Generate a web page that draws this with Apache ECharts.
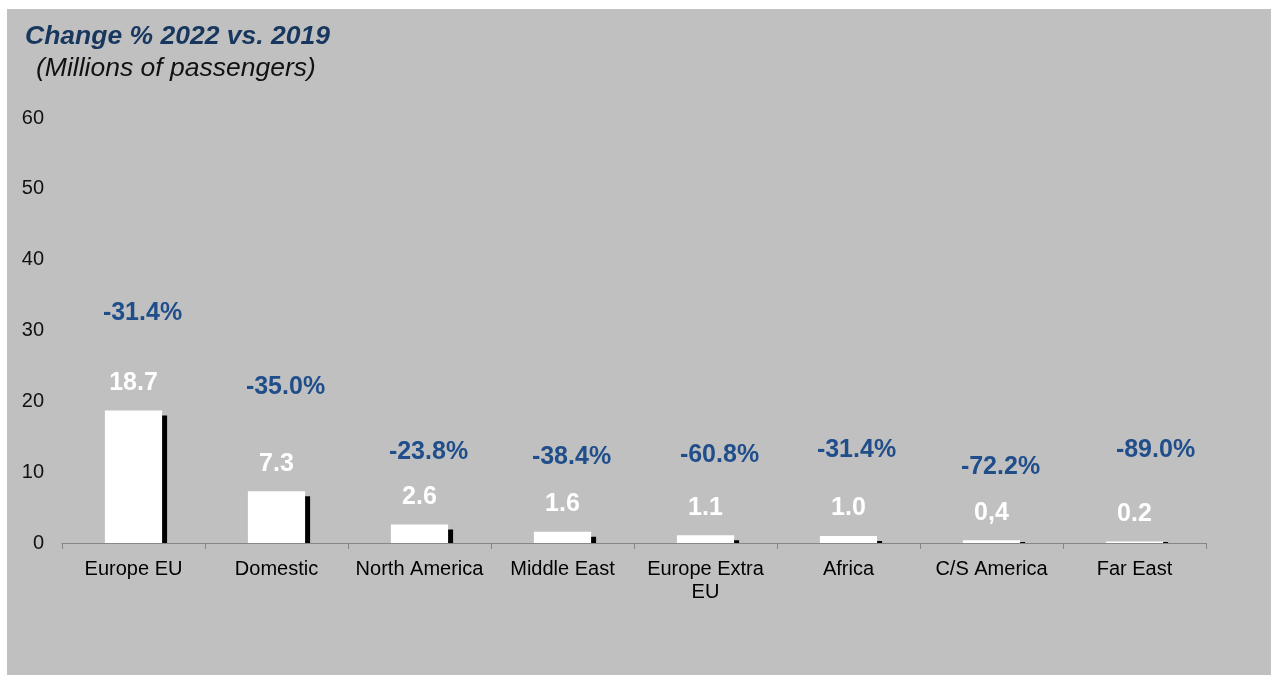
<!DOCTYPE html>
<html>
<head>
<meta charset="utf-8">
<script src="https://cdn.jsdelivr.net/npm/echarts@6/dist/echarts.min.js"></script>
<style>
  html, body { margin: 0; padding: 0; background: #fff; }
  #chart {
    position: absolute;
    left: 7px;
    top: 9px;
    width: 1264px;
    height: 666px;
    background: #c0c0c0;
  }
</style>
</head>
<body>
<div id="chart"></div>
<script>
// data
const categories = ['Europe EU', 'Domestic', 'North America', 'Middle East', 'Europe Extra\nEU', 'Africa', 'C/S America', 'Far East']
const passengers = [18.7, 7.3, 2.6, 1.6, 1.1, 1.0, 0.4, 0.2]
const valueLabels = ['18.7', '7.3', '2.6', '1.6', '1.1', '1.0', '0,4', '0.2']
const changePct = ['-31.4%', '-35.0%', '-23.8%', '-38.4%', '-60.8%', '-31.4%', '-72.2%', '-89.0%']
const yTicks = [0, 10, 20, 30, 40, 50, 60]

// where the % labels float (axis units) and their x nudge (px)
const pctLabelY = [32.5, 22.0, 12.85, 12.1, 12.4, 13.1, 10.7, 13.1]
const pctNudgeX = [9, 9, 9, 9, 14, 8, 9, 21]

const chart = echarts.init(document.getElementById('chart'))

function renderShadow (params, api) {
  const top = api.coord([api.value(0), api.value(1)])
  const base = api.coord([api.value(0), 0])
  const w = api.size([1, 0])[0] * 0.4
  return {
    type: 'rect',
    shape: {
      x: top[0] - w / 2 + 5,
      y: Math.min(top[1] + 5, base[1] - 1),
      width: w,
      height: Math.max(base[1] - top[1] - 5, 1)
    },
    style: { fill: '#000' }
  }
}

chart.setOption({
  backgroundColor: 'transparent',
  animation: false,
  textStyle: { fontFamily: 'Liberation Sans, Arial, sans-serif' },
  title: [{
    text: 'Change % 2022 vs. 2019',
    left: 13,
    top: 9,
    textStyle: { fontSize: 26.5, fontWeight: 'bold', fontStyle: 'italic', color: '#17375E' }
  }, {
    text: '(Millions of passengers)',
    left: 24,
    top: 41,
    textStyle: { fontSize: 26.5, fontWeight: 'normal', fontStyle: 'italic', color: '#111' }
  }],
  grid: {
    left: 55,
    top: 109,
    width: 1144,
    height: 425
  },
  xAxis: {
    type: 'category',
    data: categories,
    axisLine: { lineStyle: { color: '#868686', width: 1 } },
    axisTick: { show: true, length: 6, lineStyle: { color: '#868686' } },
    axisLabel: {
      interval: 0,
      color: '#000',
      fontSize: 20,
      lineHeight: 23,
      margin: 15
    },
    splitLine: { show: false }
  },
  yAxis: {
    type: 'value',
    min: yTicks[0],
    max: yTicks[yTicks.length - 1],
    interval: 10,
    axisLine: { show: false },
    axisTick: { show: false },
    splitLine: { show: false },
    axisLabel: { color: '#111', fontSize: 20, margin: 18 }
  },
  series: [{
    type: 'custom',
    z: 1,
    renderItem: renderShadow,
    data: passengers.map((v, i) => [i, v])
  }, {
    type: 'bar',
    z: 3,
    data: passengers,
    barWidth: '40%',
    itemStyle: { color: '#fff' },
    label: {
      show: true,
      position: 'top',
      distance: 15,
      color: '#fff',
      fontSize: 25,
      fontWeight: 'bold',
      formatter: p => valueLabels[p.dataIndex]
    }
  }, {
    type: 'scatter',
    z: 4,
    symbolSize: 1,
    itemStyle: { color: 'rgba(0,0,0,0)', opacity: 1 },
    data: pctLabelY.map((y, i) => ({
      value: [i, y],
      label: { offset: [pctNudgeX[i], 0] }
    })),
    label: {
      show: true,
      position: 'inside',
      color: '#1F4E8B',
      opacity: 1,
      fontSize: 25,
      fontWeight: 'bold',
      formatter: p => changePct[p.dataIndex]
    }
  }]
})
</script>
</body>
</html>
